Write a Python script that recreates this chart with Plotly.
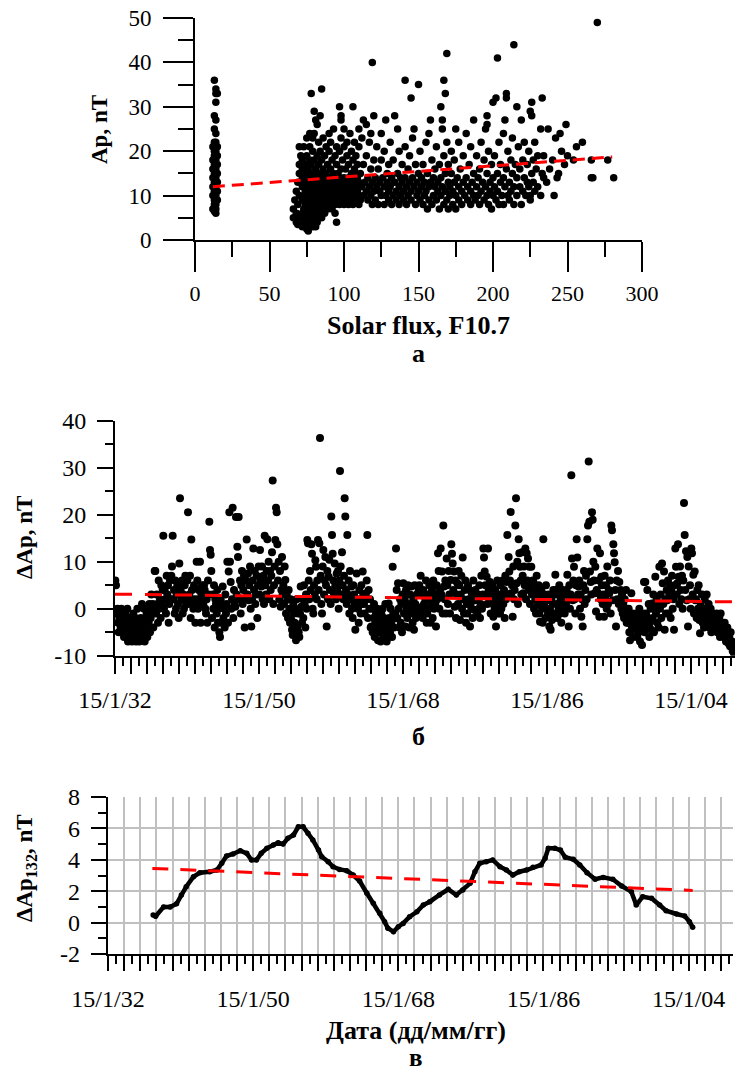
import plotly.graph_objects as go

W, H = 736, 1075

# ---------------- panel а : Ap versus solar flux F10.7 ----------------
strip_points = [
    (13, 36), (14, 34), (15, 33), (14, 33), (14, 31), (13, 28), (14, 27), (13, 25), (14, 24),
    (13, 22), (14, 22), (12, 21), (15, 21), (13, 20), (14, 20), (13, 19), (15, 19), (12, 18),
    (14, 18), (13, 17), (15, 17), (14, 16), (12, 16), (13, 15), (15, 15), (14, 14), (12, 14),
    (13, 13), (15, 13), (14, 12), (12, 12), (13, 11), (15, 11), (14, 10), (12, 10), (13, 9),
    (15, 9), (14, 8), (13, 8), (12, 7), (14, 7), (14, 6), (13, 6.5),
]
cloud_points = [
    (66, 5), (66, 7), (67, 9), (68, 4), (68, 6), (68, 11), (69, 3.5), (69, 8), (69, 13), (70, 5),
    (70, 10), (70, 15), (70, 17), (70, 21), (71, 19),
    (72, 3), (72, 6), (72, 9), (72, 12), (72, 14), (72, 16), (72, 18), (73, 4), (73, 7), (73, 10),
    (73, 13), (73, 21), (74, 5), (74, 8), (74, 11), (74, 15), (74, 17), (75, 2.5), (75, 6), (75, 9),
    (75, 12), (75, 14), (75, 19), (75, 23), (76, 2), (76, 4), (76, 7), (76, 10), (76, 13), (76, 16),
    (77, 3), (77, 5), (77, 8), (77, 11), (77, 15), (77, 18), (77, 21), (77, 24), (78, 4), (78, 6),
    (78, 9), (78, 12), (78, 14), (78, 17), (78, 33), (79, 3), (79, 7), (79, 10), (79, 13), (79, 20),
    (79, 23), (80, 5), (80, 8), (80, 11), (80, 15), (80, 18), (80, 29), (80, 24),
    (81, 3), (81, 6), (81, 9), (81, 12), (81, 16), (81, 27), (82, 4), (82, 7), (82, 10), (82, 13),
    (82, 19), (82, 26), (83, 5), (83, 8), (83, 11), (83, 14), (83, 17), (83, 22), (84, 6), (84, 9),
    (84, 12), (84, 15), (84, 20), (84, 28), (85, 34), (85, 5), (85, 8), (85, 11), (85, 13), (85, 18),
    (86, 7), (86, 10), (86, 14), (86, 16), (86, 23), (87, 6), (87, 9), (87, 12), (87, 19), (88, 8),
    (88, 11), (88, 15), (88, 21), (89, 7), (89, 10), (89, 13), (89, 17), (90, 9), (90, 12), (90, 14),
    (90, 20), (90, 24),
    (91, 8), (91, 11), (91, 16), (91, 22), (92, 7), (92, 10), (92, 13), (92, 18), (93, 9), (93, 12),
    (93, 15), (93, 25), (94, 6), (94, 8), (94, 11), (94, 14), (94, 19), (95, 4), (95, 10), (95, 13),
    (95, 17), (95, 21), (96, 9), (96, 12), (96, 15), (97, 30), (97, 8), (97, 11), (97, 14), (97, 20),
    (98, 28), (98, 27), (98, 10), (98, 13), (98, 16), (98, 23), (99, 9), (99, 12), (99, 18), (100, 8),
    (100, 11), (100, 14), (100, 21), (100, 25),
    (101, 10), (101, 13), (101, 16), (102, 9), (102, 12), (102, 19), (102, 22), (103, 8), (103, 11),
    (103, 14), (103, 17), (104, 10), (104, 13), (104, 24), (105, 9), (105, 12), (105, 15), (105, 20),
    (106, 30), (106, 8), (106, 11), (106, 14), (106, 18), (107, 10), (107, 13), (107, 16), (107, 22),
    (108, 9), (108, 12), (108, 15), (108, 19), (109, 11), (109, 14), (109, 17), (110, 8), (110, 10),
    (110, 13), (110, 25), (110, 21),
    (111, 9), (111, 15), (112, 12), (112, 23), (113, 10), (113, 17), (113, 27), (114, 13), (115, 11),
    (115, 19), (115, 26), (116, 9), (116, 14), (117, 12), (117, 22), (118, 10), (118, 16), (118, 24),
    (119, 40), (119, 8), (119, 13), (120, 28), (120, 11), (120, 18), (121, 9), (121, 14), (122, 12),
    (122, 21), (123, 8), (123, 16), (124, 11), (124, 13), (125, 10), (125, 24), (125, 18), (126, 14),
    (127, 8), (127, 12), (127, 20), (128, 27), (128, 10), (129, 15), (129, 13), (130, 9), (130, 17),
    (130, 11),
    (131, 12), (131, 22), (132, 8), (132, 14), (133, 10), (133, 18), (134, 28), (134, 13), (135, 9),
    (135, 11), (136, 15), (136, 25), (137, 8), (137, 12), (137, 20), (138, 10), (138, 14), (139, 13),
    (139, 17), (140, 9), (140, 11), (141, 36), (141, 14), (141, 21), (142, 8), (142, 12), (143, 10),
    (143, 16), (144, 13), (144, 19), (145, 32), (145, 9), (145, 11), (146, 14), (146, 23), (147, 25),
    (147, 12), (148, 8), (148, 17), (149, 10), (149, 13), (150, 35), (150, 11), (150, 15),
    (151, 9), (151, 20), (152, 12), (152, 14), (153, 8), (153, 17), (154, 10), (154, 13), (155, 11),
    (155, 22), (156, 7), (156, 15), (157, 9), (157, 12), (157, 24), (158, 27), (158, 13), (159, 8),
    (159, 18), (160, 10), (160, 14), (161, 12), (161, 16), (162, 9), (162, 21), (163, 11), (163, 13),
    (164, 7), (164, 17), (165, 30), (165, 10), (165, 14), (166, 27), (166, 25), (166, 12), (167, 36),
    (167, 8), (167, 19), (168, 33), (168, 11), (168, 15), (169, 42), (169, 9), (169, 22), (170, 13),
    (170, 7), (170, 17),
    (171, 10), (171, 12), (172, 15), (172, 20), (173, 8), (173, 11), (174, 13), (174, 18), (175, 7),
    (175, 25), (175, 10), (176, 14), (177, 9), (177, 12), (177, 22), (178, 16), (179, 8), (179, 11),
    (180, 13), (180, 19), (181, 10), (182, 14), (182, 24), (183, 9), (183, 12), (184, 17), (185, 8),
    (185, 11), (185, 21), (186, 13), (187, 27), (187, 10), (187, 15), (188, 9), (189, 12), (189, 19),
    (190, 14), (190, 10), (191, 8), (191, 16), (192, 22), (192, 11), (193, 13), (194, 9), (194, 18),
    (195, 25), (195, 12), (196, 28), (196, 26), (196, 10), (196, 15), (197, 8), (197, 20), (198, 13),
    (198, 11), (199, 7), (199, 17), (200, 31), (200, 10), (200, 14),
    (201, 12), (201, 19), (202, 32), (202, 9), (203, 41), (203, 15), (203, 11), (204, 8), (204, 22),
    (205, 13), (205, 17), (206, 10), (207, 8), (207, 14), (207, 24), (208, 27), (208, 12), (209, 32),
    (209, 33), (209, 16), (210, 10), (210, 20), (211, 9), (211, 13), (212, 18), (212, 11), (213, 15),
    (213, 23), (214, 44), (214, 8), (214, 12), (215, 17), (216, 30), (216, 10), (216, 14), (217, 21),
    (218, 12), (218, 16), (219, 27), (219, 8), (220, 11), (220, 18), (221, 14), (221, 22), (222, 10),
    (223, 13), (223, 17), (224, 12), (224, 20), (225, 29), (225, 10), (225, 9), (226, 28), (226, 31),
    (226, 15), (227, 13), (227, 18), (228, 11), (228, 22), (229, 16), (230, 12), (230, 19),
    (232, 10), (232, 25), (233, 32), (233, 15), (234, 14), (234, 19), (236, 13), (237, 25), (238, 16),
    (240, 18), (241, 10), (242, 23), (243, 14), (244, 15), (245, 24), (246, 20), (248, 17), (249, 26),
    (250, 19),
    (254, 18), (256, 21), (260, 22), (266, 14), (267, 14), (266, 18), (270, 49), (277, 18), (281, 14),
]
trend_a_x = [12, 280]
trend_a_y = [12.0, 18.7]
flux_ticks = [0, 50, 100, 150, 200, 250, 300]
ap_ticks = [0, 10, 20, 30, 40, 50]

# ---------------- panel б : monthly ΔAp ----------------
dap_first_year = 1932
dap_monthly = [
    6, 5, -1, 0, -3, -5, -2, -1, -4, 0, -3, -5,            # 1932
    -4, -6, -2, -1, -5, -3, 0, -7, -4, -2, -6, -3,          # 1933
    -5, -7, -3, -1, -6, -4, -2, -7, -5, 0, -3, -6,          # 1934
    -7, -4, -2, -6, 1, -5, -3, 0, -7, -2, -4, -1,           # 1935
    -6, 0, -3, 1, -5, -2, 3, -1, 1, -4, 0, 8,               # 1936
    8, -1, 3, 1, -3, 6, 0, 2, -2, 5, 1, 4,                  # 1937
    15.5, 0, 4, 2, -1, 7, 3, 5, -3, 1, 6, 2,                # 1938
    7, 9, 15.5, 2, 4, -1, 6, 0, 3, 5, 1, -2,                # 1939
    9.6, 23.5, 4, 2, 6, -1, 3, 0, 5, 7, 1, 2,               # 1940
    6, 20.5, 1, 3, 7, -2, 14.7, 4, 2, 0, 5, 1,              # 1941
    -3, 2, 10, 6, 0, 4, 1, 10, -3, 3, 5, 2,                 # 1942
    1, 5, 4, 0, -1, 2, -3, 6, 3, 18.5, 12.5, 11.5,          # 1943
    8, -2, 3, 0, 5, -4, 2, 1, -1, 4, -3, 0,                 # 1944
    -5, -6, 2, -3, 1, 4.7, -2, 0, -4, 3, -1, 1,             # 1945
    10, -3, 7.9, 20.5, 10, 5.7, 0, 2, 21.5, -2, 4, 1,       # 1946
    0.4, 19.5, 3, 13.2, 11, 19.5, 2, 6, -1, 5, 8, 1,        # 1947
    4, 7, -4, 2, 6, 14.7, 3, 7.5, 1.8, 5, 9, 0,             # 1948
    -3.8, 2, 6, 12.8, 4, 8, 1, 3, 7, -2, 5, 9,              # 1949
    3, 12.5, 6, 4.7, 9, 2, 7, 1, 15.5, 5, 3, 8,             # 1950
    14.8, 6, 10, 2, 8, 4, 7, 12, 27.3, 1, 5, 9,             # 1951
    14.6, 21.5, 20.5, 13.7, 6, 10, 2, 8, 0.4, 4, 11, 3,     # 1952
    5, 1, 9, 6.1, -1, 3, 1.9, -2, 4, 0, -3, 2,              # 1953
    -2.4, -4.5, -5.6, 1, -1, -3, 0, -6.7, 2, -4, -1, -5,    # 1954
    -6, -1, 4.7, 0.4, -3, 2, -2, 5, 1, -4, 3, 0,            # 1955
    14.6, 13.9, 6, 2, 8, 4, 13.7, 11.7, 0, -1, 5, 3,        # 1956
    10.3, 8.9, 2, 6, 14.6, 4, 13.9, 36.3, 7, 1, -1, 9,      # 1957
    12.5, 3, 6, 11, 5, -3.8, 8, 2, 6.8, 10.4, 4, 1,         # 1958
    19.6, 15.7, 11.7, 6, 3, 9.6, 5, 2, 7.5, 4, 8, 0,        # 1959
    6, 29.3, 9, 3, 12, 5, 2, 7, 23.5, 19.6, 4, 1,           # 1960
    15.7, 3, 6, -1, 8, 2, 4.7, 0, -2, 5, 3, 1,              # 1961
    -4.5, 2, 7.5, 1.8, 0, -3, 4, 2, -1, 5, 1, 7.9,          # 1962
    3, 1, -1, 2, 3.3, 6, 15.7, -2, 4, 0, 2, -4,             # 1963
    -3.8, 0, -5, -2, 1, -6, -3, -1, -4, 0, -6.7, -2,        # 1964
    -5, -3, -7, -1, -4, 0, -6, -2, -5, 1, -3, -7,           # 1965
    -4, -6, 1.1, -2, -5, 0, -3, -6, 8.9, -1, -4, -2,        # 1966
    -1, 12.8, 4, -2, 5.4, 0, -4, 2, -3, 1, -5, 3,           # 1967
    5.4, -1, 2, -3.8, 4, 0, -2, 5, 1, -4, 3, -1,            # 1968
    4.7, 0, -3, 2, -4.5, 5, 1, -2, 3, -1, 0, 4,             # 1969
    5, -1, 7, 3.3, 0.4, -2, 4, 1, -1, 2, 6, -3,             # 1970
    -1, 3, 0, 5, 2, -3, 1, 4, -2, 6, 0, 3,                  # 1971
    1.1, -3.8, 5, 2, 11.8, 8, 0, 4, 12.8, 3, 7.9, -1,       # 1972
    17.7, 4.7, 2, 6, -1, 10.7, 5, 1, 8, 3, -1, 6.1,         # 1973
    13.7, 11.7, 9.6, 4, 7.9, 0.4, 6, -2, 3, 5.4, 1, 8,      # 1974
    5, -2.4, 3, 7, 0, 10.9, 2, -1, 4, 6, -3, 1,             # 1975
    -1, 5, 2, 4, -3.8, 1, 0, 3, -2, 6, 2, -0.3,             # 1976
    4, 1.8, 2, -1, 3, 0, 5, -2, 1, 7, 0, 3,                 # 1977
    12.8, 10.9, 7.9, 5, 3, 6.8, 1, 12.8, 4, 2, 5.7, -1,     # 1978
    1.1, 3, 5, -1.7, 2, 0, 4, -3.8, 1, 6, -1, 3,            # 1979
    2, -1, 5, 0, 3, 6, 1, 4, -2, 7, 2, 5.7,                 # 1980
    15.7, 3, 11, 7.9, 6, 20.6, 3.3, 5, -1.7, 9, 2, 4,       # 1981
    17.7, 23.5, 5.4, 10, 1, 14.8, 11.8, 8.9, 6, 3, 12, 7,   # 1982
    3.3, 9, 5, 12.8, 2, 11.8, 6, 10.7, 4, 8.9, 1, 5,        # 1983
    8.9, 3, 6, 5.7, 0, 4, 2, -1, 7, 3, 1, 5,                # 1984
    -1, -2.8, 2, 4, 0, -3, 14.8, 1, 3, -2, 5, 0,            # 1985
    1.8, -1, 3, -3.8, 0, -4.5, 2, -2.4, 1, 4, -1, 3,        # 1986
    7.2, 4, 1, -2, 3, 0, 5, -1, 2, -3, 1, 4,                # 1987
    2, 0, -1, 3, 1, 4, 7.2, 2, -3.8, 5, 0, 3,               # 1988
    28.4, 10.7, 1.8, 6, 8.9, 2, -1, 5, 14.8, 10.9, 3, 4.7,  # 1989
    6, 0, 3, -1.7, 2, -3.8, 5, 8, 1, 4, 7, 2,               # 1990
    14.8, 17.7, 31.3, 18.5, 7.9, 5.7, 3, 20.5, 18.9, 10, 6, 3.3,  # 1991
    8.9, -0.6, 4, 12.8, 3.3, 6, -1.7, 11.8, 2, 6.8, 5, 1,   # 1992
    3, -1.7, 7, 2, 5, 0, 9, 1, 4, 3.3, 6, -1,               # 1993
    17.7, 16.7, 1.8, 13.7, 11.8, 9.9, 4, -3.8, 6, 2, 8, 1,  # 1994
    5.7, 2, 4, 0, 3, -1, 1, -2, 2, 0, 4, -3,                # 1995
    -1, -3, 0, -5, -6.7, -2, 3.3, -4, -1, -6, -2, -3,       # 1996
    -2.4, -4.5, -1, -6, -3, -5, 0, -7, -2, -4, -7.7, -1,    # 1997
    -3, 5.7, -5, 5.7, -1, -4, 4, -2, 1, -6, -3, 0,          # 1998
    -4.5, 1.1, -2, 3, -5, 0, 6.8, -1, 2, -3, 1, -4,         # 1999
    8.9, 0, 3, -2, 9.6, 5.4, 1, 7.9, -4.5, 2, -1, 4,        # 2000
    1.8, 6, -1, 3, 5, -2, 4, 7, 0, 2, -4.5, 5,              # 2001
    12.8, 8.9, 3, 5.4, 13.7, 6.8, 1, 9, 4, 2, 7, 0,         # 2002
    6, 22.5, 15.7, 4, 12.2, 1.8, 11, -3.8, 9, 2, 5, 0,      # 2003
    12.8, 11.8, 3, 7.2, -1, 7.9, 1.8, 2, -2, 4, 0, 5,       # 2004
    -2.4, -5.2, 1, -1, 3, -3, 0, -4, 2, -2, -1, 3,          # 2005
    -1.7, -3, 1, -4, -2, 0, -5, -3.8, -1, -3, -2, -4,       # 2006
    -2, -4, -1, -5, -3, -4.5, -2, -6, -1, -3, -5, -4,       # 2007
    -4.5, -6, -3, -5, -7, -6.7, -4, -5, -7.4, -6, -8, -5,   # 2008
    -8.1, -7, -9, -8, -9.5, -8.5,                           # 2009
]
trend_b_x = [1932.0, 2009.5]
trend_b_y = [3.1, 1.45]
dap_ticks = [-10, 0, 10, 20, 30, 40]

# ---------------- panel в : 132-month running mean ----------------
smooth_points = [
    (1937.6, 0.48), (1937.9, 0.4), (1938.9, 1.0), (1939.7, 1.0), (1940.5, 1.2), (1941.1, 1.76),
    (1941.7, 2.29), (1942.6, 2.92), (1943.4, 3.18), (1944.6, 3.24), (1945.5, 3.35), (1946.1, 3.78),
    (1946.7, 4.24), (1947.5, 4.37), (1948.4, 4.58), (1949.2, 4.41), (1949.8, 3.99), (1950.4, 3.99),
    (1951.0, 4.41), (1951.7, 4.73), (1952.5, 4.94), (1953.1, 5.09), (1953.7, 5.0), (1954.3, 5.37),
    (1955.0, 5.58), (1955.6, 6.1), (1956.2, 6.1), (1956.8, 5.69), (1957.4, 5.26), (1958.1, 4.62),
    (1958.5, 4.2), (1959.3, 3.88), (1959.9, 3.56), (1960.7, 3.39), (1961.6, 3.31), (1962.4, 3.03),
    (1963.2, 2.65), (1964.1, 1.87), (1964.9, 1.23), (1965.7, 0.59), (1966.3, 0.06), (1966.7, -0.36),
    (1967.4, -0.58), (1968.0, -0.26), (1968.6, -0.05), (1969.4, 0.38), (1970.3, 0.69), (1971.1, 1.12),
    (1971.9, 1.33), (1973.1, 1.76), (1974.2, 2.12), (1975.2, 1.76), (1976.0, 2.08), (1976.9, 2.5),
    (1977.5, 3.24), (1978.1, 3.78), (1978.9, 3.88), (1979.7, 3.99), (1980.6, 3.56), (1981.4, 3.35),
    (1982.2, 3.03), (1983.0, 3.24), (1983.9, 3.35), (1984.7, 3.52), (1985.7, 3.67), (1986.2, 4.1),
    (1986.6, 4.73), (1987.4, 4.73), (1988.1, 4.62), (1988.7, 4.16), (1989.7, 4.03), (1990.5, 3.67),
    (1991.4, 3.18), (1992.4, 2.76), (1993.4, 2.88), (1994.6, 2.76), (1995.7, 2.33), (1996.9, 1.97),
    (1997.5, 1.12), (1998.3, 1.65), (1999.4, 1.55), (2000.4, 1.12), (2001.2, 0.76), (2002.5, 0.55),
    (2003.5, 0.42), (2004.1, 0.06), (2004.5, -0.3),
]
trend_c_x = [1937.5, 2004.5]
trend_c_y = [3.45, 2.05]
dap132_ticks = [-2, 0, 2, 4, 6, 8]

date_range = [1932, 2009.5]
date_label_years = [1932, 1950, 1968, 1986, 2004]
date_labels = ["15/1/32", "15/1/50", "15/1/68", "15/1/86", "15/1/04"]

# ---------------- helpers ----------------
FONT = "Liberation Serif"


def fx(px):
    return px / W


def fy(py):
    return 1 - py / H


def tick_text(vals):
    return [str(v) for v in vals]


date_tickvals = list(range(1932, 2009, 2))
date_ticktext = [date_labels[date_label_years.index(y)] if y in date_label_years else " "
                 for y in date_tickvals]

dap_x = [dap_first_year + (i + 0.5) / 12 for i in range(len(dap_monthly))]

fig = go.Figure()

# panel а
fig.add_trace(go.Scatter(x=[p[0] for p in strip_points], y=[p[1] for p in strip_points],
                         mode="markers", marker=dict(size=7.5, color="black"),
                         xaxis="x", yaxis="y"))
fig.add_trace(go.Scatter(x=[p[0] for p in cloud_points], y=[p[1] for p in cloud_points],
                         mode="markers", marker=dict(size=7.5, color="black"),
                         xaxis="x", yaxis="y"))
fig.add_trace(go.Scatter(x=trend_a_x, y=trend_a_y, mode="lines",
                         line=dict(color="red", width=3, dash="12px,7px"),
                         xaxis="x", yaxis="y"))

# panel б
fig.add_trace(go.Scatter(x=dap_x, y=dap_monthly, mode="markers",
                         marker=dict(size=8, color="black"),
                         xaxis="x2", yaxis="y2"))
fig.add_trace(go.Scatter(x=trend_b_x, y=trend_b_y, mode="lines",
                         line=dict(color="red", width=3, dash="17px,13px"),
                         xaxis="x2", yaxis="y2"))

# panel в
fig.add_trace(go.Scatter(x=[p[0] for p in smooth_points], y=[p[1] for p in smooth_points],
                         mode="lines+markers", line=dict(color="black", width=4.5),
                         marker=dict(size=5.5, color="black"),
                         xaxis="x3", yaxis="y3"))
fig.add_trace(go.Scatter(x=trend_c_x, y=trend_c_y, mode="lines",
                         line=dict(color="red", width=3, dash="16px,12px"),
                         xaxis="x3", yaxis="y3"))
# empty trace that puts the tick-label-only axis of panel в on the page
fig.add_trace(go.Scatter(x=[], y=[], mode="markers", xaxis="x3", yaxis="y4", hoverinfo="skip"))

common = dict(showline=True, linecolor="black", linewidth=2, ticks="outside",
              tickcolor="black", tickwidth=1.5, zeroline=False, showgrid=False,
              tickmode="array", automargin=False, tickangle=0)

fig.update_layout(
    template="none",
    width=W, height=H, margin=dict(l=0, r=0, t=0, b=0, autoexpand=False),
    paper_bgcolor="white", plot_bgcolor="white", showlegend=False,
    font=dict(family=FONT, size=21, color="black"),
    # panel а
    xaxis=dict(common, domain=[fx(195), fx(642)], range=[0, 300], anchor="y",
               tickvals=flux_ticks, ticktext=tick_text(flux_ticks), ticklen=30,
               tickfont=dict(family=FONT, size=22), ticklabelstandoff=3,
               minor=dict(ticks="outside", ticklen=15, tickwidth=1.5, tickcolor="black",
                          dtick=25, tick0=0, showgrid=False)),
    yaxis=dict(common, domain=[fy(240), fy(18)], range=[0, 50], anchor="x",
               tickvals=ap_ticks, ticktext=tick_text(ap_ticks), ticklen=30,
               tickfont=dict(family=FONT, size=23), ticklabelstandoff=7,
               minor=dict(ticks="outside", ticklen=15, tickwidth=1.5, tickcolor="black",
                          dtick=5, tick0=0, showgrid=False)),
    # panel б
    xaxis2=dict(common, domain=[fx(115), fx(735)], range=date_range, anchor="y2",
                tickvals=date_tickvals, ticktext=date_ticktext, ticklen=16,
                tickfont=dict(family=FONT, size=24), ticklabelstandoff=5,
                minor=dict(ticks="outside", ticklen=8, tickwidth=1.5, tickcolor="black",
                           dtick=1, tick0=1932, showgrid=False)),
    yaxis2=dict(common, domain=[fy(655.7), fy(420.7)], range=[-10, 40], anchor="x2",
                tickvals=dap_ticks, ticktext=tick_text(dap_ticks), ticklen=16,
                tickfont=dict(family=FONT, size=24), ticklabelstandoff=6,
                minor=dict(ticks="outside", ticklen=8, tickwidth=1.5, tickcolor="black",
                           dtick=5, tick0=0, showgrid=False)),
    # panel в
    xaxis3=dict(common, domain=[fx(108), fx(733)], range=date_range, anchor="y3",
                tickvals=date_tickvals, ticktext=date_ticktext, ticklen=15,
                tickfont=dict(family=FONT, size=24), ticklabelstandoff=7,
                showgrid=True, gridcolor="#c0c0c0", gridwidth=1.5,
                minor=dict(ticks="outside", ticklen=8, tickwidth=1.5, tickcolor="black",
                           dtick=1, tick0=1932, showgrid=False)),
    yaxis3=dict(common, domain=[fy(954), fy(797)], range=[-2, 8], anchor="x3",
                tickvals=dap132_ticks, ticktext=tick_text(dap132_ticks), ticklen=15,
                showticklabels=False,
                showgrid=True, gridcolor="#c0c0c0", gridwidth=1.5,
                minor=dict(ticks="outside", ticklen=8, tickwidth=1.5, tickcolor="black",
                           dtick=1, tick0=0, showgrid=False)),
    # tick labels of panel в, placed where the reference has them
    yaxis4=dict(overlaying="y3", anchor="free", position=fx(80), side="left",
                range=[-2, 8], tickmode="array", tickvals=dap132_ticks,
                ticktext=tick_text(dap132_ticks), ticks="", showline=False,
                showgrid=False, zeroline=False, automargin=False,
                tickfont=dict(family=FONT, size=24)),
)

annotations = [
    dict(text="<b>Ap, nT</b>", x=fx(100), y=fy(130), textangle=-90, size=23),
    dict(text="<b>Solar flux, F10.7</b>", x=fx(418), y=fy(325), textangle=0, size=26),
    dict(text="<b>а</b>", x=fx(418), y=fy(353), textangle=0, size=26),
    dict(text="<b>ΔAp, nT</b>", x=fx(24), y=fy(538), textangle=-90, size=23),
    dict(text="<b>б</b>", x=fx(418), y=fy(736), textangle=0, size=26),
    dict(text="<b>ΔAp<sub>132</sub>, nT</b>", x=fx(26), y=fy(868), textangle=-90, size=23),
    dict(text="<b>Дата (дд/мм/гг)</b>", x=fx(416), y=fy(1030), textangle=0, size=26),
    dict(text="<b>в</b>", x=fx(416), y=fy(1057), textangle=0, size=25),
]
for a in annotations:
    fig.add_annotation(text=a["text"], x=a["x"], y=a["y"], xref="paper", yref="paper",
                       xanchor="center", yanchor="middle", showarrow=False,
                       textangle=a["textangle"], font=dict(family=FONT, size=a["size"], color="black"))

fig.write_html("out.html")
